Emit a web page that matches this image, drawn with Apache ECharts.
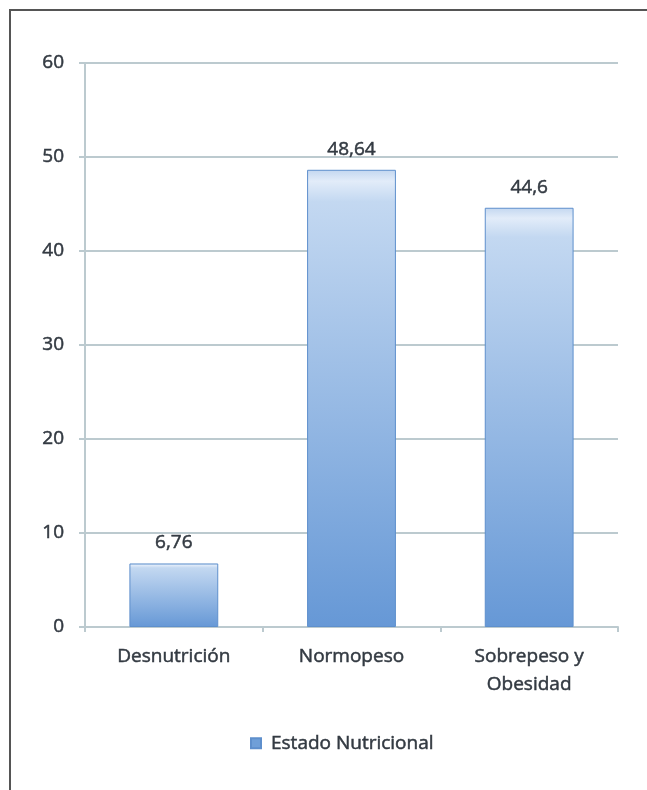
<!DOCTYPE html>
<html><head><meta charset="utf-8">
<script src="https://cdn.jsdelivr.net/npm/echarts@6/dist/echarts.min.js"></script>
<style>html,body{margin:0;padding:0;background:#fff}#c{width:647px;height:790px}</style>
</head><body><div id="c"></div>
<script>
const categories = ['Desnutrición', 'Normopeso', 'Sobrepeso y\nObesidad'];
const values = [6.76, 48.64, 44.6];
const seriesName = 'Estado Nutricional';
const yTicks = [0, 10, 20, 30, 40, 50, 60];

const chart = echarts.init(document.getElementById('c'), null, {renderer: 'canvas'});
const txt = '#333a42';
const axisCol = '#bccacf';
const tb = {textBorderColor: '#333a42', textBorderWidth: 0.5};
const barGrad = new echarts.graphic.LinearGradient(0, 0, 0, 1, [
  {offset: 0, color: '#c3d7f0'},
  {offset: 0.025, color: '#e2ecf9'},
  {offset: 0.07, color: '#c3d8f1'},
  {offset: 1, color: '#6698d6'}
]);
chart.setOption({
  animation: false,
  textStyle: {fontFamily: 'Open Sans'},
  grid: {left: 85, right: 29, top: 63, bottom: 163},
  graphic: [{type: 'rect', shape: {x: 10, y: 10, width: 700, height: 800},
    style: {fill: 'none', stroke: '#555', lineWidth: 2}, silent: true}],
  legend: {
    bottom: 32, left: 245, itemWidth: 10, itemHeight: 10, icon: 'rect',
    textStyle: Object.assign({fontSize: 19, color: txt, fontFamily: 'Open Sans', padding: [0, 0, 0, 5]}, tb),
    itemGap: 6,
    data: [{name: seriesName, itemStyle: {color: '#6f9fd8'}}]
  },
  xAxis: {
    type: 'category', data: categories,
    axisLine: {lineStyle: {color: axisCol, width: 2}},
    axisTick: {show: true, length: 5, lineStyle: {color: axisCol, width: 2}},
    axisLabel: Object.assign({fontSize: 19, color: txt, margin: 16, lineHeight: 28, interval: 0}, tb)
  },
  yAxis: {
    type: 'value', min: yTicks[0], max: yTicks[yTicks.length - 1], interval: 10,
    axisLine: {show: true, lineStyle: {color: axisCol, width: 2}},
    axisTick: {show: true, length: 6, lineStyle: {color: axisCol, width: 2}},
    splitLine: {lineStyle: {color: axisCol, width: 2}},
    axisLabel: Object.assign({fontSize: 19, color: txt, margin: 21,
      formatter: v => yTicks.includes(v) ? String(v) : ''}, tb)
  },
  series: [{
    name: seriesName, type: 'bar', data: values, barWidth: '50%',
    itemStyle: {color: barGrad, borderColor: '#5e8fcc', borderWidth: 1},
    label: Object.assign({show: true, position: 'top', distance: 11, fontSize: 19, color: txt,
      formatter: p => String(p.value).replace('.', ',')}, tb)
  }]
});
</script></body></html>
